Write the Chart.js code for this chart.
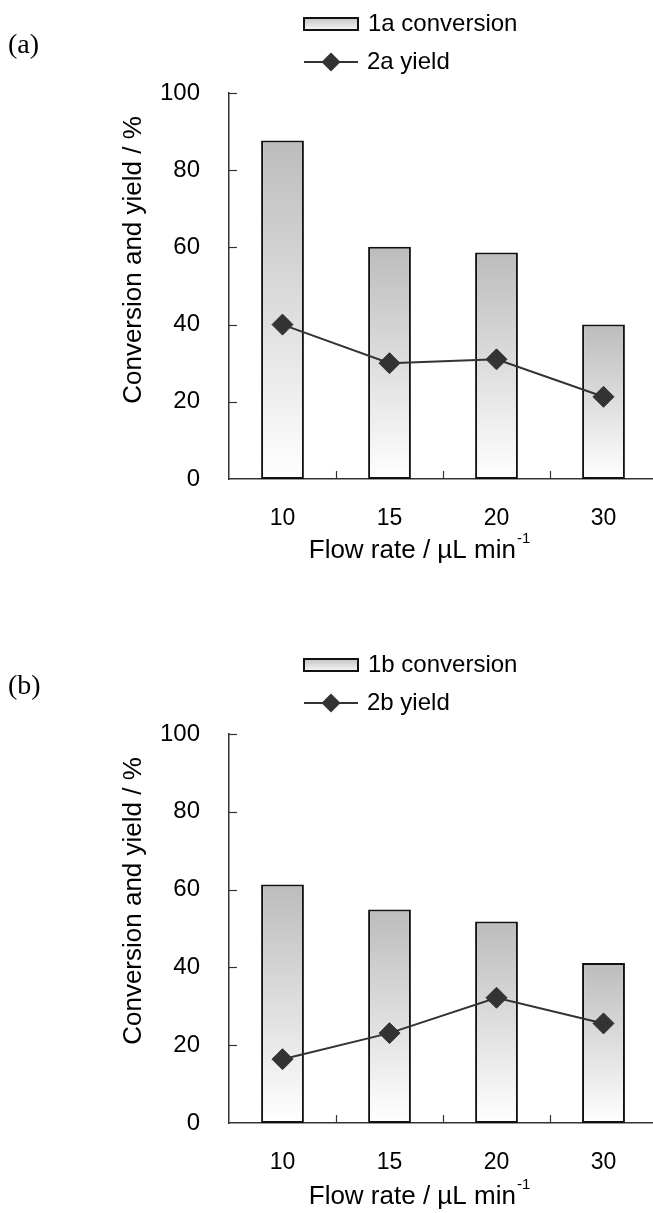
<!DOCTYPE html>
<html>
<head>
<meta charset="utf-8">
<script src="https://cdn.jsdelivr.net/npm/chart.js@4/dist/chart.umd.min.js"></script>
<style>
  html, body { margin: 0; padding: 0; background: #fff; overflow: hidden; }
  #page { width: 653px; height: 1213px; position: relative; overflow: hidden; }
  canvas { position: absolute; left: 0; }
  #chartA { top: 0; }
  #chartB { top: 641px; }
</style>
</head>
<body>
<div id="page">
  <canvas id="chartA" width="660" height="641"></canvas>
  <canvas id="chartB" width="660" height="572"></canvas>
</div>
<script>
const flowRates = ["10", "15", "20", "30"];
const yTicks = [0, 20, 40, 60, 80, 100];

const conversion1a = [87.7, 60.2, 58.7, 40.0];
const yield2a = [40.0, 30.0, 31.0, 21.3];

const conversion1b = [61.3, 54.9, 51.8, 41.1];
const yield2b = [16.4, 23.1, 32.2, 25.6];

const SANS = "'Liberation Sans', Arial, sans-serif";
const SERIF = "'Liberation Serif', 'Times New Roman', serif";
const INK = "#333333";

// vertical grey-to-white fill, one gradient per bar
function barFill(context) {
  const chart = context.chart;
  if (!chart.chartArea || context.type !== "data") return "#cccccc";
  const y = chart.scales.y;
  const top = y.getPixelForValue(context.raw);
  const base = y.getPixelForValue(0);
  const g = chart.ctx.createLinearGradient(0, top, 0, base);
  g.addColorStop(0, "#bcbcbc");
  g.addColorStop(1, "#ffffff");
  return g;
}

// panel label, legend, axis titles and inward tick marks
const decorations = {
  id: "decorations",
  afterDraw(chart, args, opts) {
    const ctx = chart.ctx;
    const area = chart.chartArea;
    const xs = chart.scales.x;
    const ys = chart.scales.y;
    ctx.save();

    // inward ticks on the value axis
    ctx.strokeStyle = INK;
    ctx.lineWidth = 1.2;
    yTicks.forEach(v => {
      if (v === 0) return;
      const py = Math.round(ys.getPixelForValue(v)) + 0.5;
      ctx.beginPath();
      ctx.moveTo(area.left, py);
      ctx.lineTo(area.left + 8, py);
      ctx.stroke();
    });
    // inward ticks between categories
    for (let i = 0; i < flowRates.length - 1; i++) {
      const px = Math.round((xs.getPixelForValue(i) + xs.getPixelForValue(i + 1)) / 2) + 0.5;
      ctx.beginPath();
      ctx.moveTo(px, area.bottom);
      ctx.lineTo(px, area.bottom - 8);
      ctx.stroke();
    }

    ctx.fillStyle = "#000";

    // panel label
    ctx.font = "28px " + SERIF;
    ctx.textAlign = "left";
    ctx.textBaseline = "middle";
    ctx.fillText(opts.panel, 8, area.top - 47);

    // legend
    const bar = chart.data.datasets[1];
    const line = chart.data.datasets[0];
    const lx = 304, lw = 54;
    const row1 = area.top - 69, row2 = area.top - 31;
    const lg = ctx.createLinearGradient(0, row1 - 6, 0, row1 + 6);
    lg.addColorStop(0, "#c4c4c4");
    lg.addColorStop(1, "#f6f6f6");
    ctx.fillStyle = lg;
    ctx.fillRect(lx, row1 - 6, lw, 12);
    ctx.strokeStyle = "#111";
    ctx.lineWidth = 2;
    ctx.strokeRect(lx, row1 - 6, lw, 12);

    ctx.strokeStyle = INK;
    ctx.lineWidth = 2;
    ctx.beginPath();
    ctx.moveTo(lx, row2);
    ctx.lineTo(lx + lw, row2);
    ctx.stroke();
    ctx.fillStyle = INK;
    ctx.beginPath();
    const cx = lx + lw / 2, r = 9.5;
    ctx.moveTo(cx - r, row2);
    ctx.lineTo(cx, row2 - r);
    ctx.lineTo(cx + r, row2);
    ctx.lineTo(cx, row2 + r);
    ctx.closePath();
    ctx.fill();

    ctx.fillStyle = "#000";
    ctx.font = "24px " + SANS;
    ctx.fillText(bar.label, lx + lw + 10, row1);
    ctx.fillText(line.label, lx + lw + 9, row2);

    // value axis title
    ctx.save();
    ctx.translate(134, area.top + 167);
    ctx.rotate(-Math.PI / 2);
    ctx.textAlign = "center";
    ctx.font = "26px " + SANS;
    ctx.fillText("Conversion and yield / %", 0, 0);
    ctx.restore();

    // category axis title with superscript
    const main = "Flow rate / \u00b5L min";
    const sup = "-1";
    ctx.font = "26px " + SANS;
    const w1 = ctx.measureText(main).width;
    ctx.font = "15px " + SANS;
    const w2 = ctx.measureText(sup).width;
    const tx = 419 - (w1 + w2) / 2;
    const ty = area.bottom + opts.titleOffset;
    ctx.font = "26px " + SANS;
    ctx.fillText(main, tx, ty);
    ctx.font = "15px " + SANS;
    ctx.fillText(sup, tx + w1 + 1, ty - 12);

    ctx.restore();
  }
};

function makeChart(id, panel, barLabel, barData, lineLabel, lineData, plotBottom, titleOffset) {
  const canvas = document.getElementById(id);
  const xHeight = canvas.height - plotBottom;
  return new Chart(canvas.getContext("2d"), {
    data: {
      labels: flowRates,
      datasets: [
        {
          type: "line",
          label: lineLabel,
          data: lineData,
          order: 0,
          borderColor: INK,
          borderWidth: 2,
          tension: 0,
          pointStyle: "rectRot",
          pointRadius: 10.5,
          pointBackgroundColor: INK,
          pointBorderColor: INK,
          pointBorderWidth: 1
        },
        {
          type: "bar",
          label: barLabel,
          data: barData,
          order: 1,
          backgroundColor: barFill,
          borderColor: "#111",
          borderWidth: 2,
          borderSkipped: false,
          barPercentage: 0.4,
          categoryPercentage: 1
        }
      ]
    },
    options: {
      responsive: false,
      animation: false,
      layout: { autoPadding: false, padding: { top: 93, right: 3, left: 0, bottom: 0 } },
      plugins: {
        legend: { display: false },
        tooltip: { enabled: false },
        decorations: { panel, titleOffset }
      },
      scales: {
        x: {
          offset: true,
          grid: { display: false, drawTicks: false },
          border: { color: INK, width: 1.5 },
          ticks: { color: "#000", padding: 26, font: { family: SANS, size: 23 } },
          afterFit: s => { s.height = xHeight; }
        },
        y: {
          min: 0,
          max: 100,
          afterBuildTicks: s => { s.ticks = yTicks.map(v => ({ value: v })); },
          grid: { display: false, drawTicks: false },
          border: { color: INK, width: 1.5 },
          ticks: { color: "#000", padding: 29, font: { family: SANS, size: 24 } },
          afterFit: s => { s.width = 229; }
        }
      }
    },
    plugins: [decorations]
  });
}

makeChart("chartA", "(a)", "1a conversion", conversion1a, "2a yield", yield2a, 479, 72);
makeChart("chartB", "(b)", "1b conversion", conversion1b, "2b yield", yield2b, 482, 74);
</script>
</body>
</html>
